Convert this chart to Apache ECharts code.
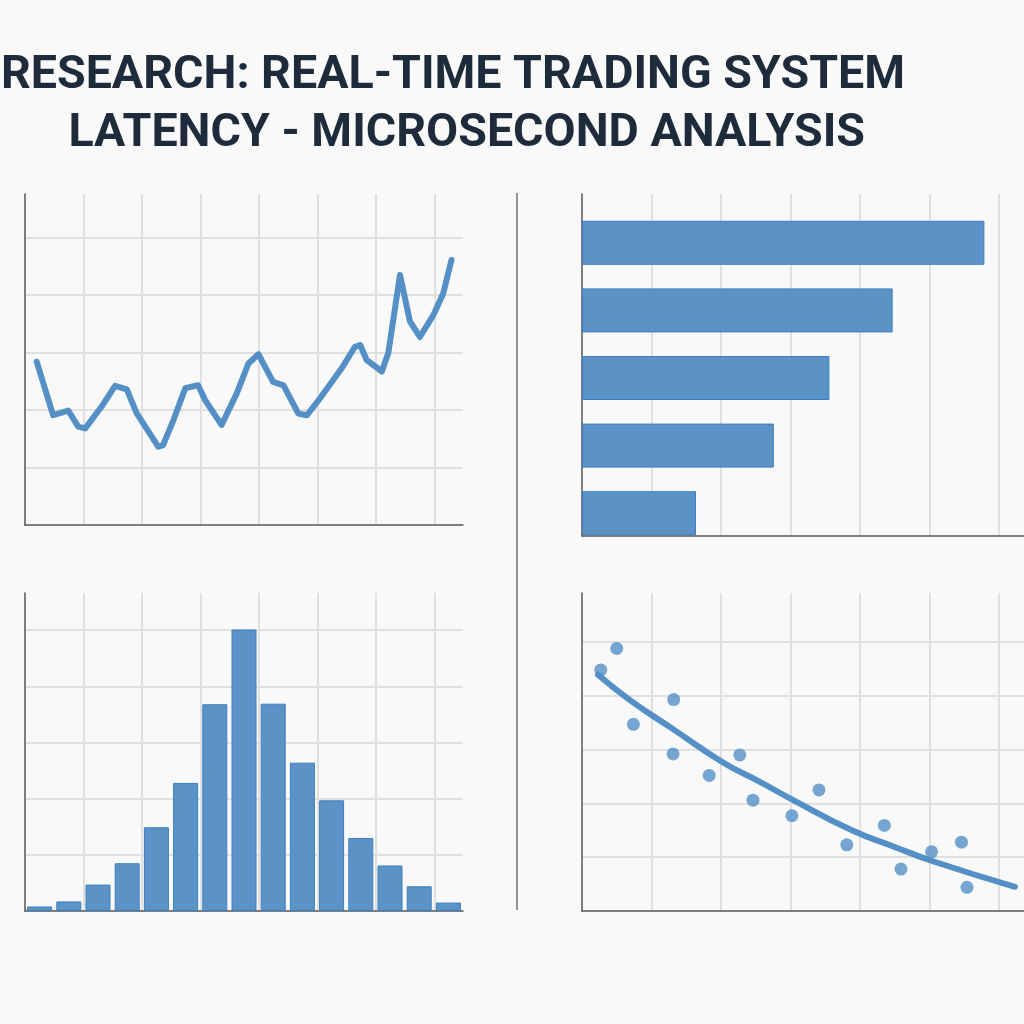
<!DOCTYPE html>
<html><head><meta charset="utf-8">
<script src="https://cdn.jsdelivr.net/npm/echarts@6/dist/echarts.min.js"></script>
<style>html,body{margin:0;padding:0;background:#f9f9f9}#c{width:1024px;height:1024px}</style>
</head><body><div id="c"></div><script>
// ---- text ----
const titleLine1 = "RESEARCH: REAL-TIME TRADING SYSTEM";
const titleLine2 = "LATENCY - MICROSECOND ANALYSIS";

// ---- top-left: latency time series ----
const latencyX = [0.20,0.48,0.74,0.91,1.03,1.31,1.54,1.74,1.91,2.28,2.36,2.54,2.74,2.96,3.08,3.36,3.62,3.82,3.99,4.24,4.42,4.67,4.82,5.04,5.41,5.64,5.73,5.84,6.10,6.21,6.41,6.58,6.75,6.98,7.15,7.29];
const latencyY = [2.84,1.91,1.99,1.71,1.68,2.06,2.42,2.36,1.94,1.36,1.39,1.83,2.38,2.43,2.17,1.74,2.29,2.81,2.97,2.49,2.43,1.94,1.91,2.20,2.72,3.10,3.13,2.87,2.67,2.99,4.35,3.54,3.27,3.65,4.03,4.61];

// ---- top-right: horizontal bars ----
const barCategories = ["C1","C2","C3","C4","C5"];
const barValues = [5.79,4.47,3.56,2.76,1.64];

// ---- bottom-left: histogram ----
const histBins = ["B1","B2","B3","B4","B5","B6","B7","B8","B9","B10","B11","B12","B13","B14","B15"];
const histCounts = [0.08,0.17,0.47,0.85,1.49,2.28,3.68,5.01,3.69,2.64,1.97,1.30,0.81,0.44,0.15];

// ---- bottom-right: scatter + trend ----
const scatterX = [0.50,0.27,0.74,1.32,1.31,1.83,2.27,2.46,3.02,3.41,3.81,4.35,4.59,5.03,5.46,5.54];
const scatterY = [4.88,4.48,3.47,3.93,2.92,2.52,2.90,2.06,1.77,2.25,1.23,1.59,0.78,1.10,1.28,0.44];
const trendX = [0.23,0.69,1.31,2.03,2.56,3.04,3.90,4.48,5.06,6.23];
const trendY = [4.39,3.92,3.38,2.76,2.40,2.06,1.49,1.20,0.92,0.45];

const BLUE = '#5490c6';
const BAR = '#5b93c7';
const BAR_BORDER = '#3b7fc0';
const AXIS = { show: true, lineStyle: { color: '#555', width: 1.5 } };
const SPLIT = { show: true, showMinLine: false, showMaxLine: false, lineStyle: { color: '#e0e0e0', width: 2 } };
function valAxis(grid, max, extra) {
  return Object.assign({
    type: 'value', gridIndex: grid, min: 0, max: max, interval: 1,
    axisLine: AXIS, axisTick: { show: false }, axisLabel: { show: false },
    splitLine: SPLIT
  }, extra || {});
}
const zip = (a, b) => a.map((v, i) => [v, b[i]]);
const titleStyle = { fontFamily: 'Roboto, "DejaVu Sans", sans-serif', fontWeight: 'bold', fontSize: 46.6, color: '#1d2b3b' };

const chart = echarts.init(document.getElementById('c'), null, { renderer: 'canvas' });
chart.setOption({
  backgroundColor: '#f9f9f9',
  animation: false,
  title: [
    { text: titleLine1, right: 119, top: 53, padding: 0, textStyle: titleStyle },
    { text: titleLine2, right: 159, top: 111, padding: 0, textStyle: titleStyle }
  ],
  grid: [
    { left: 25, top: 194, width: 438, height: 331 },
    { left: 582, top: 194, right: 0, height: 342 },
    { left: 582, top: 209, right: 0, height: 338 },
    { left: 25, top: 593, width: 438, height: 318 },
    { left: 582, top: 593, right: 0, height: 318 }
  ],
  xAxis: [
    valAxis(0, 7.487),
    valAxis(1, 6.36),
    { type: 'value', gridIndex: 2, min: 0, max: 6.36, show: false },
    valAxis(3, 7.487),
    { type: 'category', gridIndex: 3, data: histBins, show: false },
    valAxis(4, 6.36)
  ],
  yAxis: [
    valAxis(0, 5.757),
    valAxis(1, 1, { splitLine: { show: false } }),
    { type: 'category', gridIndex: 2, data: barCategories, inverse: true, show: false },
    valAxis(3, 5.66),
    valAxis(4, 5.91)
  ],
  graphic: [
    { type: 'line', shape: { x1: 517, y1: 193, x2: 517, y2: 910 }, style: { stroke: '#707070', lineWidth: 1.5 } }
  ],
  series: [
    { type: 'line', xAxisIndex: 0, yAxisIndex: 0, data: zip(latencyX, latencyY), showSymbol: false,
      lineStyle: { color: BLUE, width: 6, join: 'round', cap: 'round' } },
    { type: 'bar', xAxisIndex: 2, yAxisIndex: 2, data: barValues, barWidth: 44,
      itemStyle: { color: BAR, borderColor: BAR_BORDER, borderWidth: 1 } },
    { type: 'bar', xAxisIndex: 4, yAxisIndex: 3, data: histCounts, barWidth: 25,
      itemStyle: { color: BAR, borderColor: BAR_BORDER, borderWidth: 1 } },
    { type: 'scatter', xAxisIndex: 5, yAxisIndex: 4, data: zip(scatterX, scatterY), symbolSize: 13,
      itemStyle: { color: BLUE } },
    { type: 'line', xAxisIndex: 5, yAxisIndex: 4, data: zip(trendX, trendY), smooth: true, showSymbol: false,
      lineStyle: { color: BLUE, width: 6, cap: 'round' } }
  ]
});
</script></body></html>
